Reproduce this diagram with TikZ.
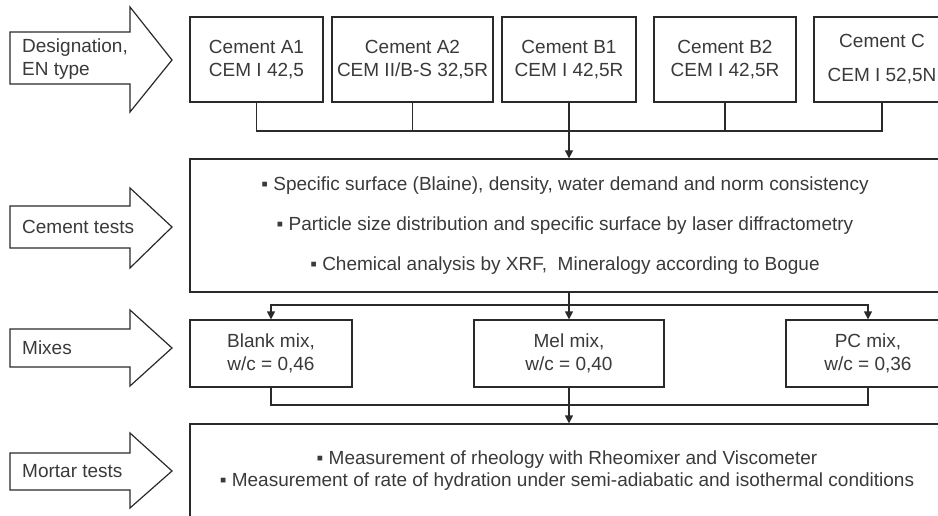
\documentclass[tikz,border=0pt]{standalone}
\usepackage{fontspec}
\setmainfont{Liberation Sans}
\usetikzlibrary{arrows.meta}
\definecolor{ink}{HTML}{2A2A2A}
\definecolor{txt}{HTML}{3A3A3A}
\tikzset{
  box/.style={draw=ink, line width=1.2pt, fill=white, inner sep=0pt, text=txt, align=center,
              font=\fontsize{19}{23}\selectfont},
  conn/.style={draw=ink, line width=1.2pt},
  arr/.style={conn, -{Triangle[width=8pt,length=8pt]}},
  bigarrow/.style={draw=ink, line width=1.2pt, fill=white, line join=miter},
  lab/.style={text=txt, align=left, anchor=west, inner sep=0pt, font=\fontsize{19}{23}\selectfont},
  blist/.style={text=txt, align=center, inner sep=0pt}
}
\begin{document}
\begin{tikzpicture}[x=1pt,y=-1pt]
\useasboundingbox (0,0) rectangle (938,516);
\clip (0,0) rectangle (938,516);
\fill[white] (0,0) rectangle (938,516);

% left hollow arrows
\draw[bigarrow] (10,32) -- (130,32) -- (130,7) -- (172,60) -- (130,112) -- (130,84) -- (10,84) -- cycle;
\node[lab] (ldes) at (22,59) {Designation,\\EN type};
\draw[bigarrow] (10,206) -- (130,206) -- (130,188) -- (172,227) -- (130,268) -- (130,248) -- (10,248) -- cycle;
\node[lab] (lct) at (22,227) {Cement tests};
\draw[bigarrow] (10,329) -- (130,329) -- (130,310) -- (172,348) -- (130,386) -- (130,367) -- (10,367) -- cycle;
\node[lab] (lmix) at (22,348) {Mixes};
\draw[bigarrow] (10,453) -- (130,453) -- (130,433) -- (172,471) -- (130,508) -- (130,490) -- (10,490) -- cycle;
\node[lab] (lmt) at (22,471) {Mortar tests};

% cement boxes
\node[box, minimum width=133pt, minimum height=85pt] (a1) at (256.5,59.5) {Cement A1\\CEM I 42,5};
\node[box, minimum width=161pt, minimum height=85pt] (a2) at (412.5,59.5) {Cement A2\\CEM II/B-S 32,5R};
\node[box, minimum width=134pt, minimum height=85pt] (b1) at (569,59.5) {Cement B1\\CEM I 42,5R};
\node[box, minimum width=142pt, minimum height=85pt] (b2) at (725,59.5) {Cement B2\\CEM I 42,5R};
\node[box, minimum width=136pt, minimum height=85pt, font=\fontsize{19}{34}\selectfont] (cc) at (882,59.5) {Cement C\\CEM I 52,5N};

% cement tests box
\node[box, minimum width=750pt, minimum height=133pt, font=\fontsize{19}{40}\selectfont] (ct) at (565,225.5)
  {▪ Specific surface (Blaine), density, water demand and norm consistency\\
   ▪ Particle size distribution and specific surface by laser diffractometry\\
   ▪ Chemical analysis by XRF,\ \ Mineralogy according to Bogue};

% mixes
\node[box, minimum width=162pt, minimum height=67pt] (blank) at (271,353.5) {Blank mix,\\w/c = 0,46};
\node[box, minimum width=190pt, minimum height=67pt] (mel) at (569,353.5) {Mel mix,\\w/c = 0,40};
\node[box, minimum width=164pt, minimum height=67pt] (pc) at (868,353.5) {PC mix,\\w/c = 0,36};

% mortar tests
\node[box, minimum width=754pt, minimum height=150pt] (mt) at (567,499) {};
\node[blist, font=\fontsize{19}{22}\selectfont] (mtxt) at (567,471)
  {▪ Measurement of rheology with Rheomixer and Viscometer\\
   ▪ Measurement of rate of hydration under semi-adiabatic and isothermal conditions};

% connectors
\coordinate (j1) at (569,131);
\draw[conn] (a1.south) |- (cc.south |- j1) -- (cc.south);
\draw[conn] (a2.south) -- (a2.south |- j1);
\draw[conn] (b2.south) -- (b2.south |- j1);
\draw[arr] (b1.south) -- (b1.south |- ct.north);

\coordinate (j2) at (569,305);
\draw[arr] (ct.south -| mel.north) -- (mel.north);
\draw[arr] (j2) -| (blank.north);
\draw[arr] (j2) -| (pc.north);

\coordinate (j3) at (569,405);
\draw[conn] (blank.south) |- (pc.south |- j3) -- (pc.south);
\draw[arr] (mel.south) -- (mel.south |- mt.north);
\end{tikzpicture}
\end{document}
